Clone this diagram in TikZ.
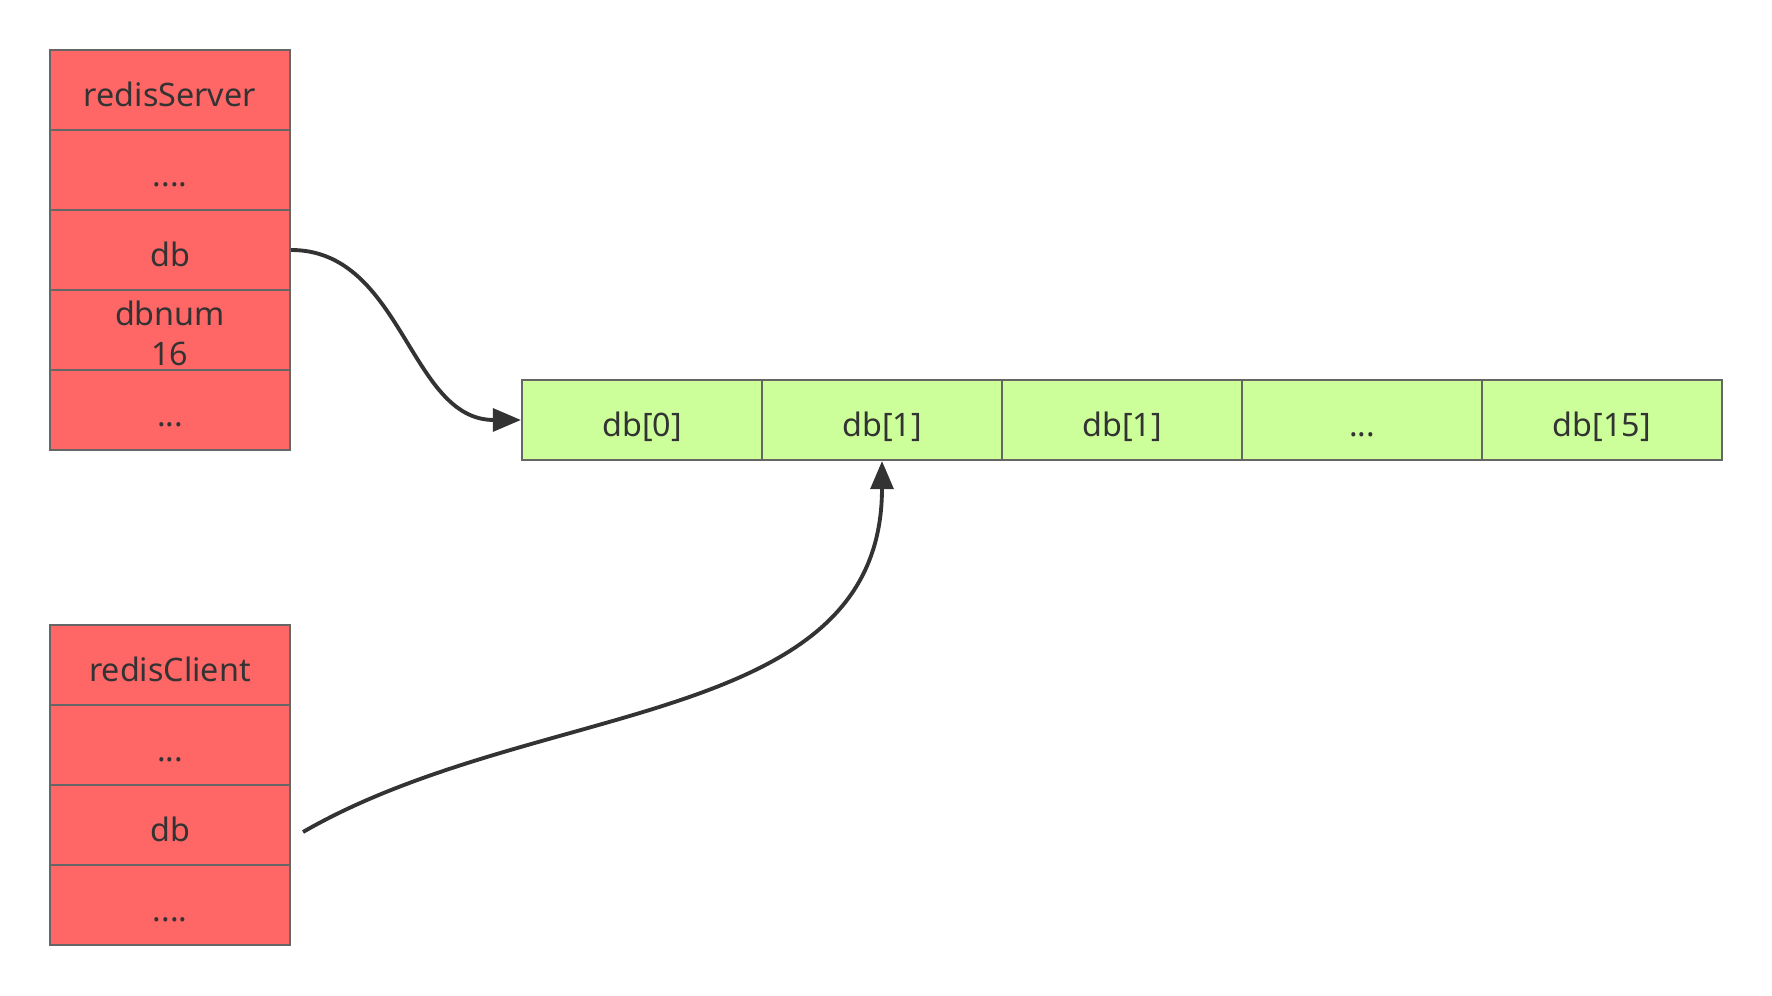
\documentclass[tikz,border=0pt]{standalone}
\usepackage{fontspec}
\setmainfont{Noto Sans}
\usepackage{tikz}
\usetikzlibrary{arrows.meta,calc}

\definecolor{cellred}{HTML}{FF6666}
\definecolor{cellgreen}{HTML}{CCFF99}
\definecolor{cellborder}{HTML}{666666}
\definecolor{ink}{HTML}{333333}

\begin{document}
\begin{tikzpicture}[font=\fontsize{9.2}{11.4}\selectfont]
	\tikzstyle{cell} = [draw=cellborder, line width=0.6pt, minimum width=2.4cm, minimum height=0.8cm, inner sep=0pt, text=ink, align=center, text height=0.42cm, text depth=0.08cm]
	\tikzstyle{link} = [draw=ink, line width=1.1pt, -{Triangle[length=8pt,width=6.5pt]}]
	\useasboundingbox (0,0) rectangle (17.72,9.96);
	% redisServer
	\node[cell, fill=cellred] (s1) at (1.70,9.06) {redisServer};
	\node[cell, fill=cellred] (s2) at (1.70,8.26) {....};
	\node[cell, fill=cellred] (s3) at (1.70,7.46) {db};
	\node[cell, fill=cellred, text height=0.76cm, text depth=0.04cm] (s4) at (1.70,6.66) {dbnum\\16};
	\node[cell, fill=cellred] (s5) at (1.70,5.86) {...};
	% redisClient
	\node[cell, fill=cellred] (c1) at (1.70,3.31) {redisClient};
	\node[cell, fill=cellred] (c2) at (1.70,2.51) {...};
	\node[cell, fill=cellred] (c3) at (1.70,1.71) {db};
	\node[cell, fill=cellred] (c4) at (1.70,0.91) {....};
	% db array
	\node[cell, fill=cellgreen] (d0) at (6.42,5.76) {db[0]};
	\node[cell, fill=cellgreen] (d1) at (8.82,5.76) {db[1]};
	\node[cell, fill=cellgreen] (d2) at (11.22,5.76) {db[1]};
	\node[cell, fill=cellgreen] (d3) at (13.62,5.76) {...};
	\node[cell, fill=cellgreen] (d4) at (16.02,5.76) {db[15]};
	\coordinate (cdb) at ($(c3.east)+(0.12,-0.07)$);
	\draw[link] (s3.east) to[out=0, in=180] (d0.west);
	\draw[link] (cdb) to[out=30, in=-90] (d1.south);
\end{tikzpicture}
\end{document}
